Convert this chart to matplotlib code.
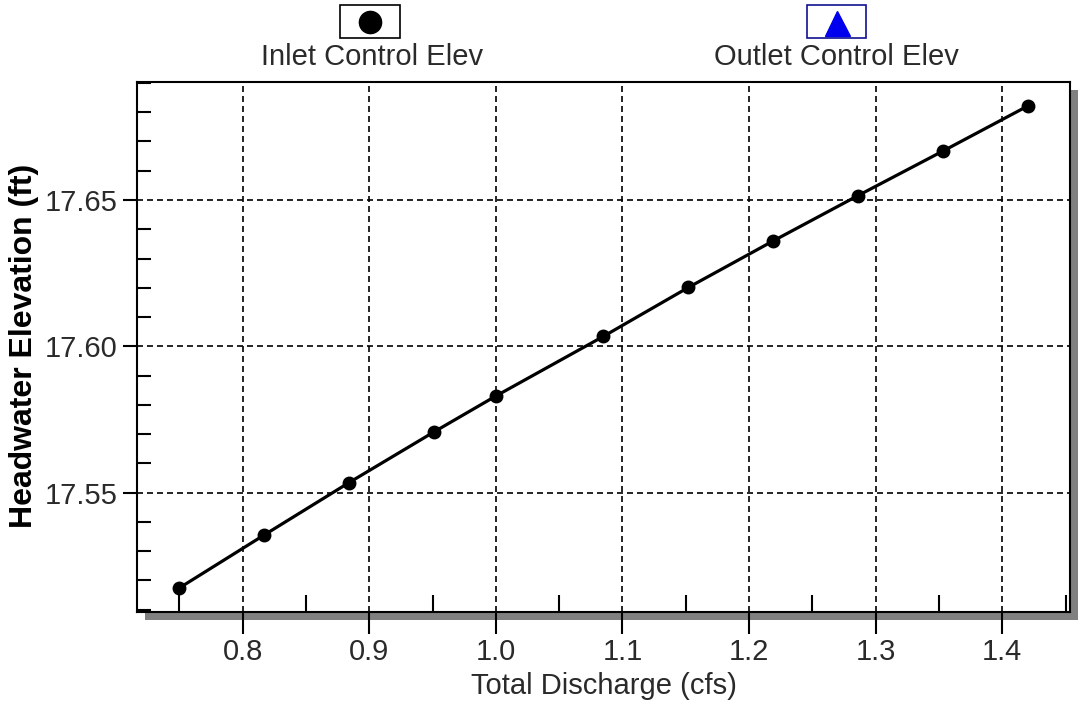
import matplotlib
matplotlib.use("Agg")
import matplotlib.pyplot as plt
from matplotlib.patches import Rectangle
from matplotlib.lines import Line2D
from matplotlib.ticker import MultipleLocator, FormatStrFormatter

# Rating-curve data
discharge = [0.750, 0.817, 0.884, 0.951, 1.000, 1.085, 1.152, 1.219, 1.286, 1.353, 1.420]
inlet_elev = [17.5174, 17.5355, 17.5534, 17.5707, 17.5830, 17.6034,
              17.6201, 17.6360, 17.6515, 17.6667, 17.6821]
series_names = ["Inlet Control Elev", "Outlet Control Elev"]
x_label = "Total Discharge (cfs)"
y_label = "Headwater Elevation (ft)"

plt.rcParams['font.family'] = ['Liberation Sans', 'DejaVu Sans']

W, H = 1078, 705
fig = plt.figure(figsize=(W / 100, H / 100), dpi=100)
fig.patch.set_facecolor('white')


def fx(px):
    return px / W


def fy(py):
    return 1 - py / H


left, top, right, bottom = 137, 82, 1070, 612
ax = fig.add_axes([fx(left), fy(bottom), (right - left) / W, (bottom - top) / H])
ax.set_facecolor('white')

# drop shadow behind the plot frame
shadow = Rectangle((fx(left + 8), fy(bottom + 8)), (right - left) / W, (bottom - top) / H,
                   transform=fig.transFigure, facecolor='#808080', edgecolor='none', zorder=-1)
fig.add_artist(shadow)

ax.plot(discharge, inlet_elev, color='black', lw=2.3, marker='o', ms=9, zorder=3)
ax.margins(0.05)

ax.xaxis.set_major_locator(MultipleLocator(0.1))
ax.xaxis.set_minor_locator(MultipleLocator(0.05))
ax.xaxis.set_major_formatter(FormatStrFormatter('%.1f'))
ax.yaxis.set_major_locator(MultipleLocator(0.05))
ax.yaxis.set_minor_locator(MultipleLocator(0.01))
ax.yaxis.set_major_formatter(FormatStrFormatter('%.2f'))

ax.tick_params(axis='x', which='major', direction='out', length=16, width=1.5,
               pad=3, labelsize=21, colors='black')
ax.tick_params(axis='x', which='minor', direction='in', length=12, width=1.5)
ax.tick_params(axis='y', which='major', direction='out', length=10, width=1.5,
               pad=4, labelsize=21, colors='black')
ax.tick_params(axis='y', which='minor', direction='in', length=10, width=1.5)
for lab in ax.get_xticklabels() + ax.get_yticklabels():
    lab.set_color('#2a2a2a')

ax.grid(True, which='major', color='black', lw=1.2, linestyle=(0, (3.6, 2.4)))
ax.set_axisbelow(True)
for sp in ax.spines.values():
    sp.set_linewidth(1.5)
    sp.set_color('black')

ax.set_xlabel(x_label, fontsize=21, labelpad=4, color='#2a2a2a')
fig.text(fx(24), fy(346), y_label, rotation=90, ha='center', va='center',
         fontsize=23, fontweight='bold', color='black')

# legend across the top
fig.add_artist(Rectangle((fx(340), fy(38)), 59.5 / W, 33 / H, transform=fig.transFigure,
                         facecolor='white', edgecolor='black', lw=1.2))
fig.add_artist(Line2D([fx(370)], [fy(21.5)], marker='o', ms=16, color='black',
                      transform=fig.transFigure))
fig.text(fx(372), fy(57), series_names[0], ha='center', va='center', fontsize=21,
         color='#2a2a2a')

fig.add_artist(Rectangle((fx(807), fy(38)), 59 / W, 33 / H, transform=fig.transFigure,
                         facecolor='white', edgecolor='#101090', lw=1.2))
fig.add_artist(Line2D([fx(837)], [fy(22.7)], marker='^', ms=18, color='#0000ee',
                      transform=fig.transFigure))
fig.text(fx(836), fy(57), series_names[1], ha='center', va='center', fontsize=21,
         color='#2a2a2a')

fig.savefig('out.png', dpi=100)
